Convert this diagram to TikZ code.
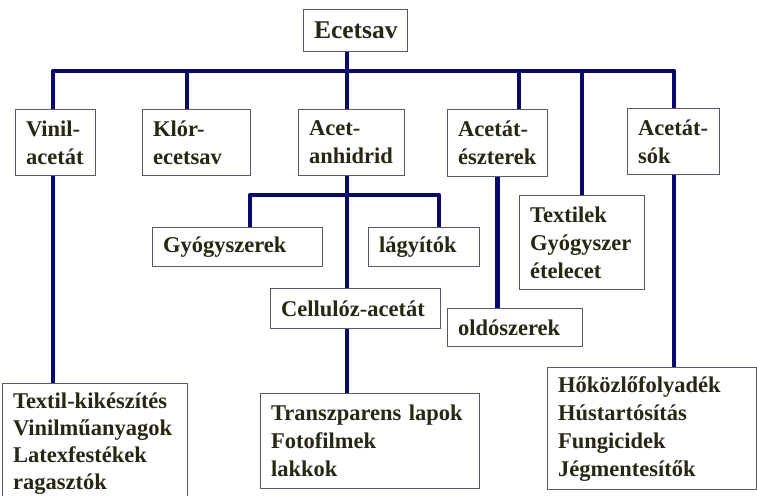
\documentclass[tikz,border=0pt]{standalone}
\usepackage{fontspec}
\setmainfont{Liberation Serif}
\definecolor{navyln}{RGB}{8,8,110}
\definecolor{txtc}{RGB}{40,38,20}
\definecolor{bordc}{RGB}{85,90,105}
\begin{document}
\begin{tikzpicture}[x=1pt,y=-1pt,
  bx/.style={draw=bordc, line width=1.1pt, fill=white, anchor=north west,
    inner xsep=10.5pt, inner ysep=0pt, align=left, text=txtc,
    font=\fontsize{22.5}{28}\selectfont\bfseries},
  ln/.style={draw=navyln, line width=4.5pt, line join=round}]
\clip (0,0) rectangle (757,495);
\fill[white] (0,0) rectangle (757,495);
% boxes
\node[bx, align=center, text width=83pt, minimum height=42pt,
  font=\fontsize{25.5}{30}\selectfont\bfseries] (ecet) at (303,9) {Ecetsav};
\node[bx, text width=59pt, minimum height=66pt] (vinil) at (15,109) {Vinil-\\acetát};
\node[bx, text width=87pt, minimum height=66pt] (klor) at (142,109) {Klór-\\ecetsav};
\node[bx, text width=85pt, minimum height=66pt] (acet) at (298,109) {Acet-\\anhidrid};
\node[bx, text width=79pt, minimum height=67pt] (eszt) at (447,109) {Acetát-\\észterek};
\node[bx, text width=71pt, minimum height=66pt] (sok) at (627,108) {Acetát-\\sók};
\node[bx, text width=104pt, minimum height=94pt] (textil) at (519,195) {Textilek\\Gyógyszer\\ételecet};
\node[bx, text width=149pt, minimum height=39pt] (gyogy) at (152,227) {Gyógyszerek};
\node[bx, text width=90pt, minimum height=39pt] (lagy) at (368,227) {lágyítók};
\node[bx, text width=149pt, minimum height=40pt] (cell) at (270,288) {Cellulóz-acetát};
\node[bx, text width=114pt, minimum height=38pt] (oldo) at (447,308) {oldószerek};
\node[bx, text width=164pt, minimum height=120pt,
  font=\fontsize{22.5}{27}\selectfont\bfseries] (vb) at (2,383) {Textil-kikészítés\\Vinilműanyagok\\Latexfestékek\\ragasztók};
\node[bx, text width=198pt, minimum height=95pt] (transz) at (260,393) {Transzparens lapok\\Fotofilmek\\lakkok};
\node[bx, text width=188pt, minimum height=122pt] (hokoz) at (547,367) {Hőközlőfolyadék\\Hústartósítás\\Fungicidek\\Jégmentesítők};
% connectors
\coordinate (hub) at (347,71);
\coordinate (hr) at (674,71);
\coordinate (sub) at (439,195);
\draw[ln] (vinil.north -| 53,0) |- (hr) -- (hr |- sok.north);
\draw[ln] (klor.north -| 187,0) -- (187,71);
\draw[ln] (hub |- ecet.south) -- (hub |- acet.north);
\draw[ln] (eszt.north -| 519,0) -- (519,71);
\draw[ln] (textil.north -| 582,0) -- (582,71);
\draw[ln] (vinil.south -| 53,0) -- (vb.north -| 53,0);
\draw[ln] (hub |- acet.south) -- (hub |- cell.north);
\draw[ln] (gyogy.north -| 250,0) |- (sub) -- (sub |- lagy.north);
\draw[ln] (hub |- cell.south) -- (hub |- transz.north);
\draw[ln] (eszt.south) -- (eszt.south |- oldo.north);
\draw[ln] (sok.south -| 674,0) -- (hokoz.north -| 674,0);
\end{tikzpicture}
\end{document}
